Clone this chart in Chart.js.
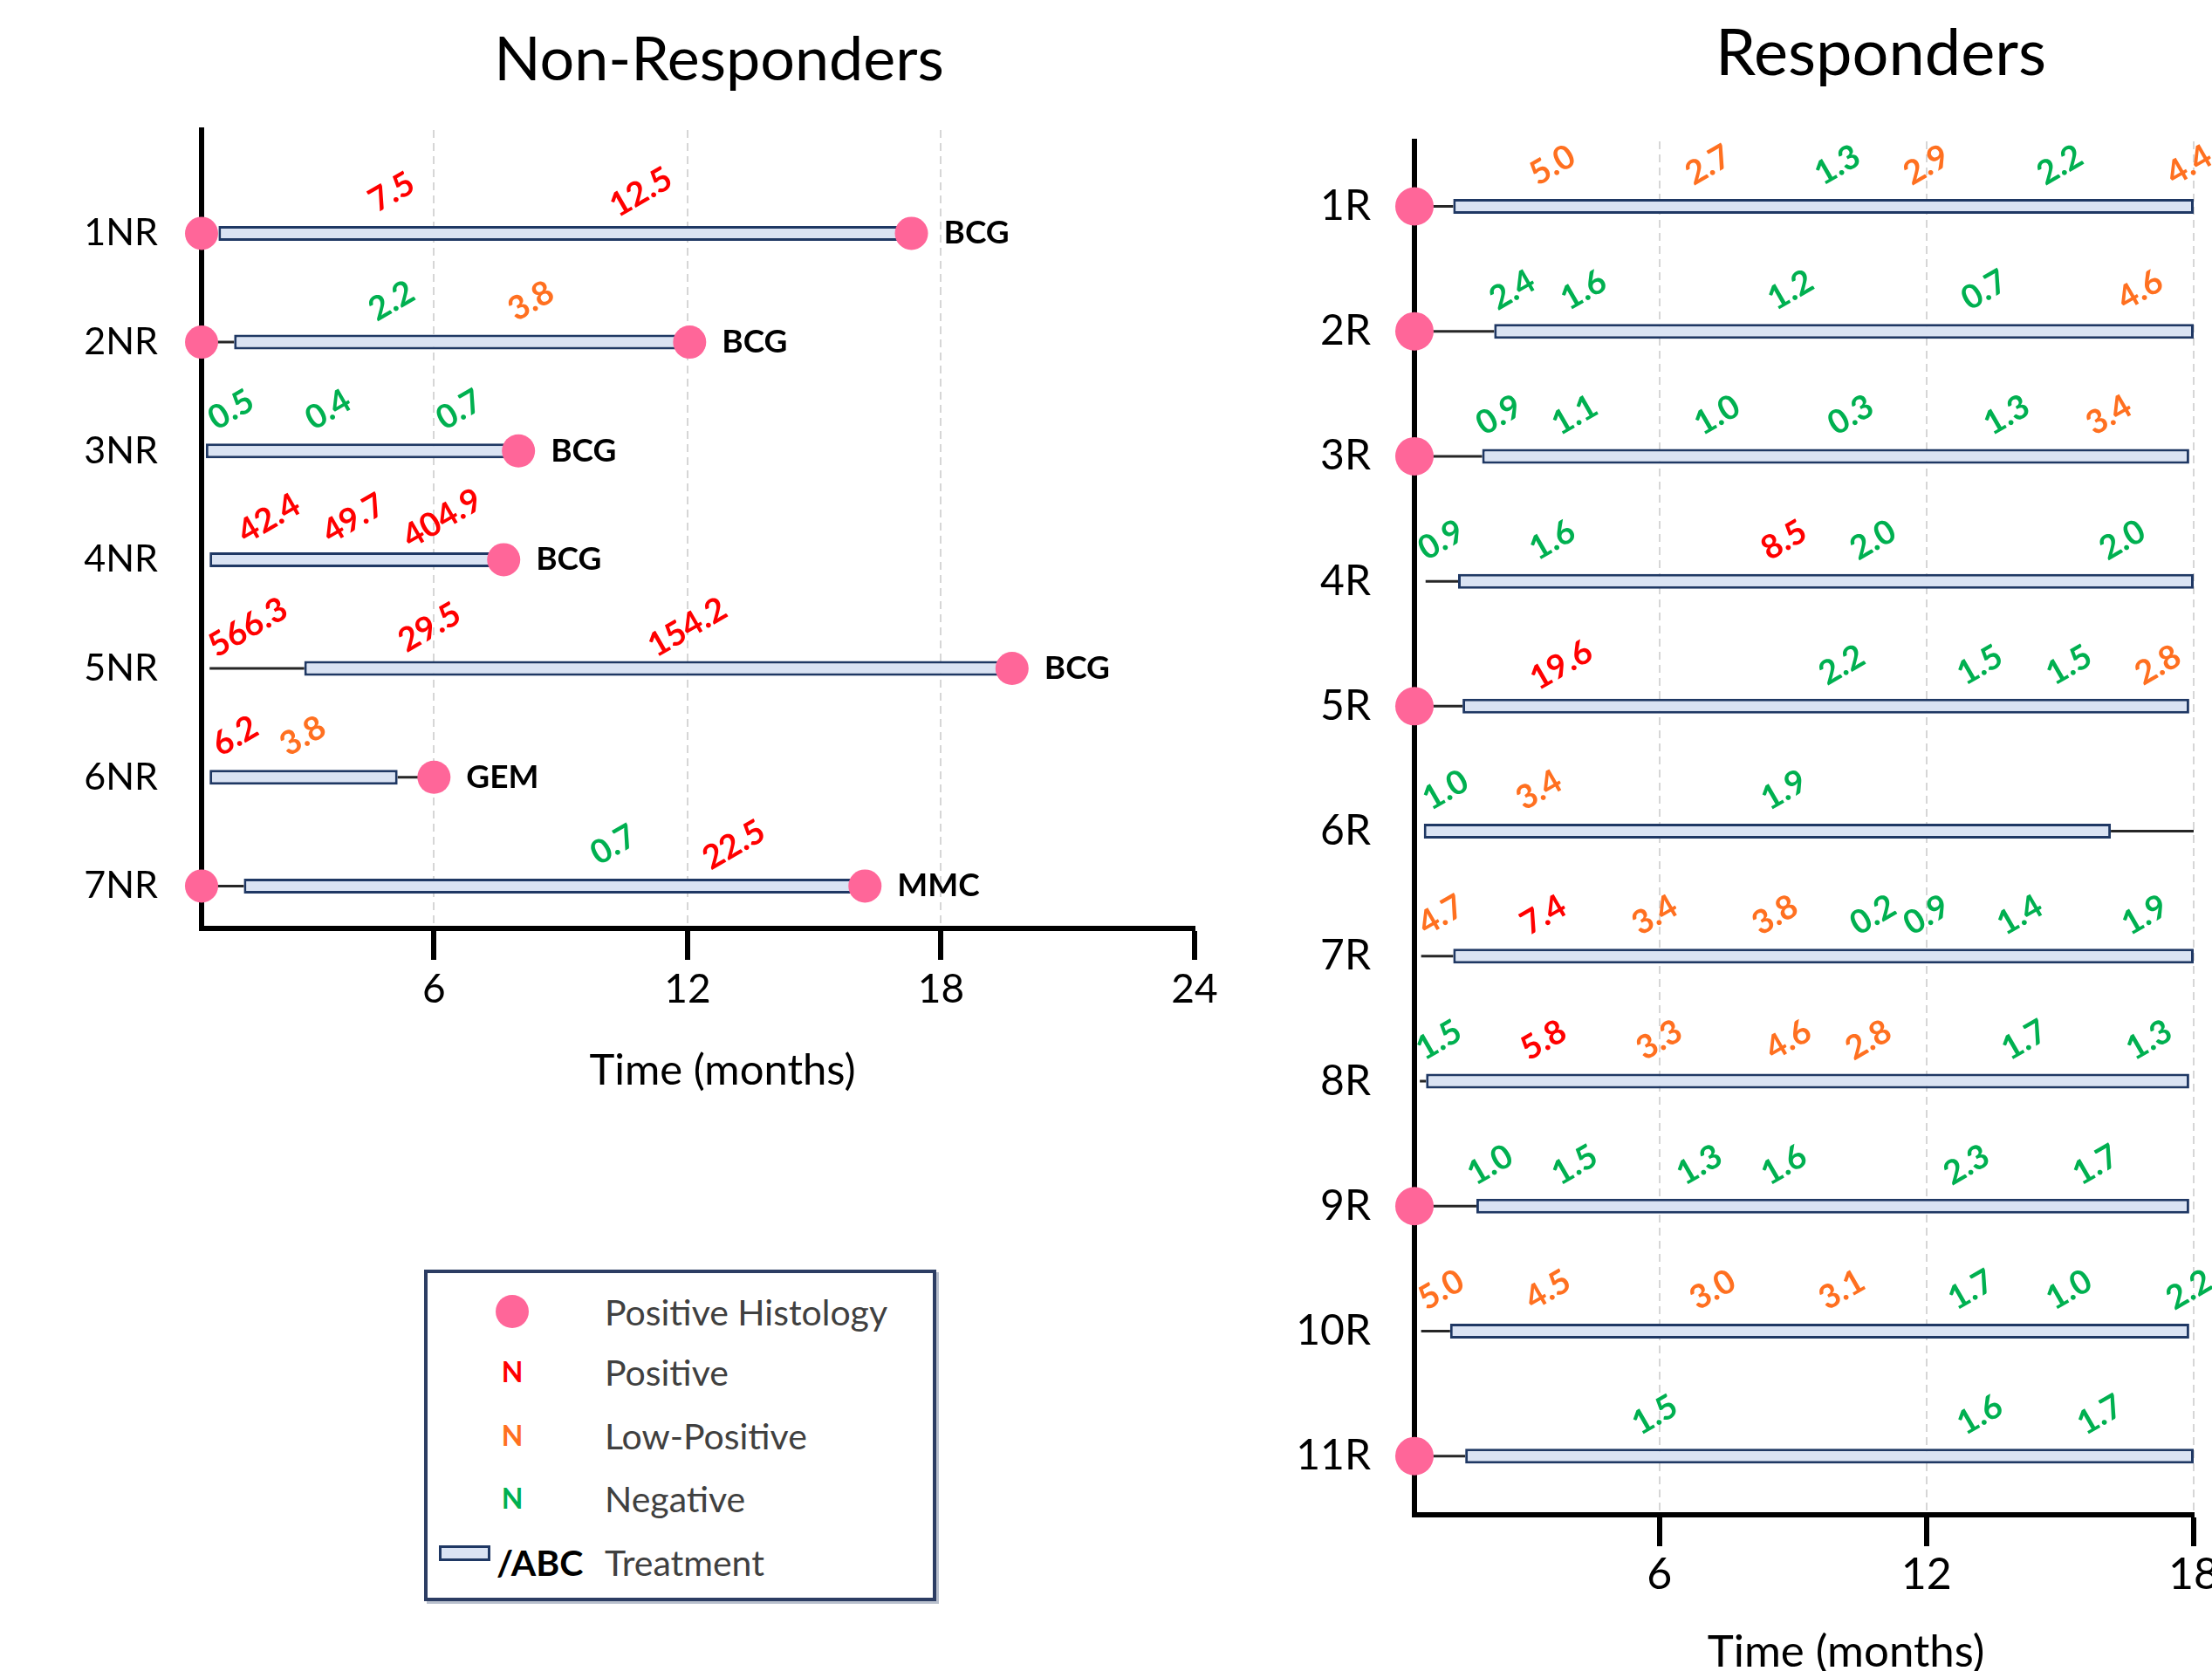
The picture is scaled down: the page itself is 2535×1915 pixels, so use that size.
<!DOCTYPE html>
<html>
<head>
<meta charset="utf-8">
<title>Non-Responders / Responders timelines</title>
<script src="https://cdn.jsdelivr.net/npm/chart.js@4.4.1/dist/chart.umd.min.js"></script>
<style>
html, body { margin: 0; padding: 0; background: #fff; overflow: hidden; }
body { width: 2535px; height: 1915px; position: relative; font-family: Lato, sans-serif; }
#nrChart { position: absolute; left: 0; top: 0; }
#rChart { position: absolute; left: 1450px; top: 0; }
#legend {
  position: absolute; left: 486px; top: 1455px; width: 587px; height: 380px;
  box-sizing: border-box; border: 4px solid #2c3d63; background: #fff;
  box-shadow: 3px 3px 0 #b9c0cd; color: #404040; font-size: 41px;
}
#legend .row { position: absolute; transform: translateY(-50%); line-height: 1; white-space: nowrap; }
#legend .dot { position: absolute; left: 78px; top: 25px; width: 38px; height: 38px; border-radius: 50%; background: #ff6699; }
#legend .n { font-weight: bold; font-size: 32px; width: 32px; text-align: center; left: 81px; }
#legend .swatch { position: absolute; left: 13px; top: 312px; width: 59px; height: 18px; box-sizing: border-box; background: #dae3f3; border: 3px solid #1f3864; }
</style>
</head>
<body>
<canvas id="nrChart" width="1648" height="1300"></canvas>
<canvas id="rChart" width="1410" height="1960"></canvas>

<div id="legend">
  <div class="dot"></div>
  <div class="row" style="left:203px; top:44px">Positive Histology</div>
  <div class="row n" style="top:113px; color:#ff0000">N</div>
  <div class="row" style="left:203px; top:113px">Positive</div>
  <div class="row n" style="top:186px; color:#ff7020">N</div>
  <div class="row" style="left:203px; top:186px">Low-Positive</div>
  <div class="row n" style="top:258px; color:#00b050">N</div>
  <div class="row" style="left:203px; top:258px">Negative</div>
  <div class="swatch"></div>
  <div class="row" style="left:79px; top:331px; font-weight:bold; color:#000">/ABC</div>
  <div class="row" style="left:203px; top:331px">Treatment</div>
</div>

<script>
Chart.defaults.font.family = 'Lato';
Chart.defaults.color = '#000';

// ---- Non-Responders ----
const nrPatients = ['1NR', '2NR', '3NR', '4NR', '5NR', '6NR', '7NR'];
const nrTreatStart = [0.9, 1.27, 0.6, 0.69, 2.93, 0.69, 1.5];
const nrTreatEnd = [17.2, 11.95, 7.9, 7.53, 19.5, 5.14, 16.0];
// [row, from, to] thin follow-up lines
const nrLinks = [[2, 0.5, 1.27], [5, 0.69, 2.93], [6, 5.14, 6.0], [7, 0.5, 1.5]];
// [row, month] positive histology
const nrHistology = [[1, 0.5], [1, 17.3], [2, 0.5], [2, 12.05], [3, 8.0], [4, 7.65], [5, 19.68], [6, 6.0], [7, 0.5], [7, 16.2]];
const nrAgents = ['BCG', 'BCG', 'BCG', 'BCG', 'BCG', 'GEM', 'MMC'];
// per row: [month, test value, P=positive L=low-positive N=negative]
const nrTests = [
  [[5.0, 7.5, 'P'], [10.9, 12.5, 'P']],
  [[5.0, 2.2, 'N'], [8.3, 3.8, 'L']],
  [[1.2, 0.5, 'N'], [3.5, 0.4, 'N'], [6.6, 0.7, 'N']],
  [[2.1, 42.4, 'P'], [4.1, 49.7, 'P'], [6.2, 404.9, 'P']],
  [[1.6, 566.3, 'P'], [5.9, 29.5, 'P'], [12.0, 154.2, 'P']],
  [[1.3, 6.2, 'P'], [2.9, 3.8, 'L']],
  [[10.25, 0.7, 'N'], [13.1, 22.5, 'P']]
];
const nrTicks = [6, 12, 18, 24];

// ---- Responders ----
const rPatients = ['1R', '2R', '3R', '4R', '5R', '6R', '7R', '8R', '9R', '10R', '11R'];
const rTreatStart = [1.37, 2.29, 2.02, 1.48, 1.58, 0.71, 1.37, 0.76, 1.89, 1.3, 1.64];
const rTreatEnd = [18, 18, 17.9, 18, 17.9, 16.14, 18, 17.9, 17.9, 17.9, 18];
const rLinks = [[1, 0.5, 1.37], [2, 0.5, 2.29], [3, 0.5, 2.02], [4, 0.75, 1.48], [5, 0.5, 1.58], [6, 16.14, 18],
  [7, 0.65, 1.37], [8, 0.62, 0.76], [9, 0.5, 1.89], [10, 0.65, 1.3], [11, 0.5, 1.64]];
const rHistology = [[1, 0.5], [2, 0.5], [3, 0.5], [5, 0.5], [9, 0.5], [11, 0.5]];
const rTests = [
  [[3.6, 5.0, 'L'], [7.1, 2.7, 'L'], [10.0, 1.3, 'N'], [12.0, 2.9, 'L'], [15.0, 2.2, 'N'], [17.9, 4.4, 'L']],
  [[2.7, 2.4, 'N'], [4.3, 1.6, 'N'], [8.95, 1.2, 'N'], [13.3, 0.7, 'N'], [16.8, 4.6, 'L']],
  [[2.4, 0.9, 'N'], [4.1, 1.1, 'N'], [7.3, 1.0, 'N'], [10.3, 0.3, 'N'], [13.8, 1.3, 'N'], [16.1, 3.4, 'L']],
  [[1.1, 0.9, 'N'], [3.6, 1.6, 'N'], [8.8, 8.5, 'P'], [10.8, 2.0, 'N'], [16.4, 2.0, 'N']],
  [[3.8, 19.6, 'P'], [10.1, 2.2, 'N'], [13.2, 1.5, 'N'], [15.2, 1.5, 'N'], [17.2, 2.8, 'L']],
  [[1.2, 1.0, 'N'], [3.3, 3.4, 'L'], [8.8, 1.9, 'N']],
  [[1.1, 4.7, 'L'], [3.4, 7.4, 'P'], [5.9, 3.4, 'L'], [8.6, 3.8, 'L'], [10.8, 0.2, 'N'], [12.0, 0.9, 'N'], [14.1, 1.4, 'N'], [16.9, 1.9, 'N']],
  [[1.05, 1.5, 'N'], [3.4, 5.8, 'P'], [6.0, 3.3, 'L'], [8.9, 4.6, 'L'], [10.7, 2.8, 'L'], [14.2, 1.7, 'N'], [17.0, 1.3, 'N']],
  [[2.2, 1.0, 'N'], [4.1, 1.5, 'N'], [6.9, 1.3, 'N'], [8.8, 1.6, 'N'], [12.9, 2.3, 'N'], [15.8, 1.7, 'N']],
  [[1.1, 5.0, 'L'], [3.5, 4.5, 'L'], [7.2, 3.0, 'L'], [10.1, 3.1, 'L'], [13.0, 1.7, 'N'], [15.2, 1.0, 'N'], [17.9, 2.2, 'N']],
  [[5.9, 1.5, 'N'], [13.2, 1.6, 'N'], [15.9, 1.7, 'N']]
];
const rTicks = [6, 12, 18];

const markColors = { P: '#ff0000', L: '#ff7020', N: '#00b050' };

// panel title, rotated test values, agent names and the x axis title
const timelineText = {
  id: 'timelineText',
  afterDatasetsDraw(chart, args, o) {
    const ctx = chart.ctx, xs = chart.scales.x, ys = chart.scales.y, area = chart.chartArea;
    const midX = (area.left + area.right) / 2;
    ctx.save();
    ctx.textBaseline = 'middle';
    ctx.textAlign = 'center';
    ctx.fillStyle = '#000';
    ctx.font = o.title.size + 'px Lato';
    ctx.fillText(o.title.text, midX + o.title.dx, o.title.y);

    ctx.font = 'bold ' + o.markSize + 'px Lato';
    o.tests.forEach((row, i) => {
      const py = ys.getPixelForValue(i + 1) - o.lift;
      row.forEach(([t, v, c]) => {
        ctx.save();
        ctx.translate(xs.getPixelForValue(t), py);
        ctx.rotate(-Math.PI / 6);
        ctx.fillStyle = markColors[c];
        ctx.fillText(v.toFixed(1), 0, 0);
        ctx.restore();
      });
    });

    ctx.textAlign = 'left';
    ctx.font = 'bold ' + o.agentSize + 'px Lato';
    (o.agents || []).forEach((name, i) => {
      const last = Math.max(...o.dots.filter(d => d[0] === i + 1).map(d => d[1]));
      ctx.fillText(name, xs.getPixelForValue(last) + o.agentGap, ys.getPixelForValue(i + 1));
    });

    ctx.textAlign = 'center';
    ctx.font = o.axisTitle.size + 'px Lato';
    ctx.fillText('Time (months)', midX + o.axisTitle.dx, area.bottom + o.axisTitle.dy);
    ctx.restore();
  }
};

function timeline(id, p) {
  const xMax = p.ticks[p.ticks.length - 1];
  return new Chart(document.getElementById(id), {
    type: 'bar',
    data: {
      datasets: [
        {
          type: 'scatter',
          data: p.dots.map(([r, t]) => ({ x: t, y: r })),
          pointRadius: p.dotRadius,
          pointHoverRadius: p.dotRadius,
          backgroundColor: '#ff6699',
          borderWidth: 0,
          clip: false,
          order: 0
        },
        {
          label: 'Treatment',
          data: p.names.map((n, i) => ({ x: [p.start[i], p.end[i]], y: i + 1 })),
          backgroundColor: '#dae3f3',
          borderColor: '#1f3864',
          borderWidth: 3,
          borderSkipped: false,
          maxBarThickness: 17,
          grouped: false,
          clip: false,
          order: 1
        },
        {
          data: p.links.map(([r, a, b]) => ({ x: [a, b], y: r })),
          backgroundColor: '#262626',
          borderWidth: 0,
          maxBarThickness: 3,
          grouped: false,
          order: 2
        }
      ]
    },
    options: {
      indexAxis: 'y',
      responsive: false,
      animation: false,
      events: [],
      layout: { padding: { left: 0, right: p.padRight, top: p.padTop, bottom: 0 } },
      plugins: {
        legend: { display: false },
        tooltip: { enabled: false },
        title: { display: false },
        timelineText: {
          title: p.title, axisTitle: p.axisTitle,
          tests: p.tests, agents: p.agents, dots: p.dots,
          lift: 47, markSize: 38, agentSize: 37, agentGap: 37
        }
      },
      scales: {
        x: {
          type: 'linear',
          min: 0.5,
          max: xMax,
          offset: false,
          afterBuildTicks: s => { s.ticks = p.ticks.map(v => ({ value: v })); },
          afterFit: s => { s.height = p.xHeight; },
          ticks: { font: { size: p.tickSize }, color: '#000', padding: p.tickPad },
          grid: {
            offset: false,
            color: c => (c.tick && c.tick.value >= xMax && !p.edgeGrid) ? 'rgba(0,0,0,0)' : '#d6d6d6',
            lineWidth: 2,
            tickColor: '#000',
            tickWidth: 6,
            tickLength: 36
          },
          border: { display: true, color: '#000', width: 6, dash: [9, 6] }
        },
        y: {
          type: 'linear',
          reverse: true,
          min: p.yMin,
          max: p.yMax,
          offset: false,
          afterBuildTicks: s => { s.ticks = p.names.map((n, i) => ({ value: i + 1 })); },
          afterFit: s => { s.width = p.yWidth; },
          ticks: { callback: v => p.names[v - 1], font: { size: p.rowSize }, color: '#000', padding: 50 },
          grid: { display: false, offset: false, drawTicks: false },
          border: { display: true, color: '#000', width: 6 }
        }
      }
    },
    plugins: [timelineText]
  });
}

timeline('nrChart', {
  title: { text: 'Non-Responders', size: 70, dx: 24, y: 69 },
  axisTitle: { size: 49, dx: 28, dy: 163 },
  names: nrPatients, start: nrTreatStart, end: nrTreatEnd, links: nrLinks,
  dots: nrHistology, agents: nrAgents, tests: nrTests, ticks: nrTicks,
  dotRadius: 19, yMin: 0.05, yMax: 7.39, yWidth: 231, xHeight: 236, padRight: 279, padTop: 149,
  tickSize: 46, tickPad: 7, rowSize: 43, edgeGrid: false
});

timeline('rChart', {
  title: { text: 'Responders', size: 74, dx: 88, y: 62 },
  axisTitle: { size: 51, dx: 48, dy: 158 },
  names: rPatients, start: rTreatStart, end: rTreatEnd, links: rLinks,
  dots: rHistology, agents: null, tests: rTests, ticks: rTicks,
  dotRadius: 22, yMin: 0.48, yMax: 11.47, yWidth: 171, xHeight: 224, padRight: 346, padTop: 162,
  tickSize: 50, tickPad: 3, rowSize: 48, edgeGrid: true
});
</script>
</body>
</html>
